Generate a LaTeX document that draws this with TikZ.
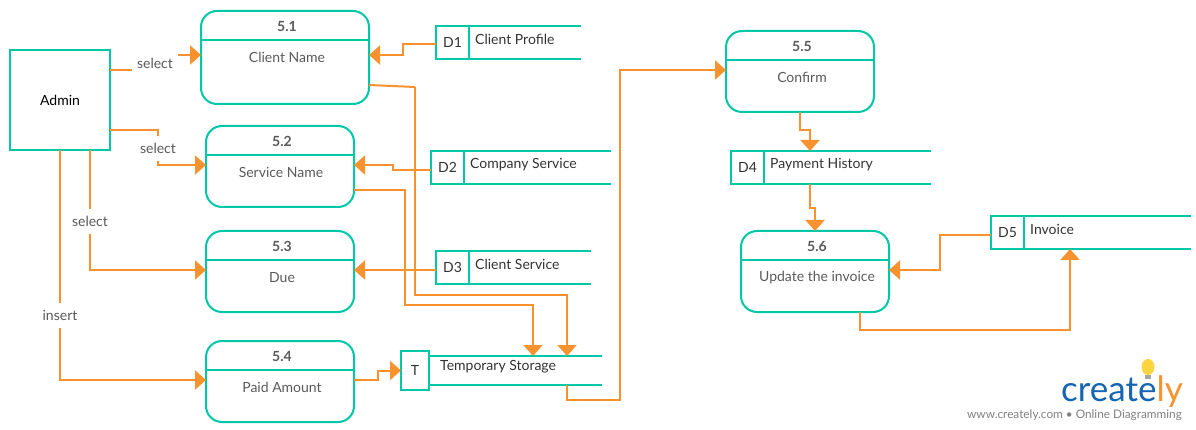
\documentclass[tikz,border=0pt]{standalone}
\usepackage{fontspec}
\setmainfont{Lato}
\usepackage{xcolor}
\usetikzlibrary{arrows.meta}
\definecolor{tealline}{HTML}{00C7A8}
\definecolor{flowcolor}{HTML}{F8922E}
\definecolor{labelgray}{HTML}{5A5A5A}
\definecolor{logoblue}{HTML}{1565B0}
\tikzstyle{entitybox} = [draw=tealline, line width=2pt, rectangle, outer sep=0pt, inner sep=0pt, font=\fontsize{14}{16}\selectfont]
\tikzstyle{procbox} = [entitybox, rounded corners=16pt, minimum width=148pt, minimum height=81pt]
\tikzstyle{storeid} = [entitybox, minimum width=33pt, minimum height=33pt, text=black!80]
\tikzstyle{divider} = [draw=tealline, line width=2pt]
\tikzstyle{numtext} = [text=labelgray, font=\fontsize{14}{16}\selectfont\bfseries, inner sep=0pt]
\tikzstyle{proctext} = [text=labelgray, font=\fontsize{14}{16}\selectfont, inner sep=0pt]
\tikzstyle{storetext} = [text=black!80, anchor=west, font=\fontsize{14}{16}\selectfont, inner sep=0pt]
\tikzstyle{flowlabel} = [fill=white, text=labelgray, font=\fontsize{14}{16}\selectfont, inner ysep=1pt, inner xsep=5pt, minimum height=25pt]
\tikzstyle{flow} = [draw=flowcolor, line width=2pt, -{Triangle[length=11pt,width=19pt]}]
\tikzstyle{flowplain} = [draw=flowcolor, line width=2pt]

\begin{document}
\begin{tikzpicture}[x=1pt,y=-1pt]
\useasboundingbox (0,0) rectangle (1196,430);
% external entity
\node [entitybox, minimum width=100pt, minimum height=100pt, text=black] (admin) at (60,100.5) {Admin};
% processes
\node [procbox, minimum width=168pt, minimum height=93pt] (p51) at (285,57.5) {};
\node [procbox] (p52) at (280,166.5) {};
\node [procbox] (p53) at (280,271.5) {};
\node [procbox] (p54) at (280,381.5) {};
\node [procbox] (p55) at (800,71.5) {};
\node [procbox] (p56) at (815,271.5) {};
\draw [divider] ([yshift=-29pt]p51.north west) -- ([yshift=-29pt]p51.north east);
\draw [divider] ([yshift=-29pt]p52.north west) -- ([yshift=-29pt]p52.north east);
\draw [divider] ([yshift=-29pt]p53.north west) -- ([yshift=-29pt]p53.north east);
\draw [divider] ([yshift=-29pt]p54.north west) -- ([yshift=-29pt]p54.north east);
\draw [divider] ([yshift=-29pt]p55.north west) -- ([yshift=-29pt]p55.north east);
\draw [divider] ([yshift=-29pt]p56.north west) -- ([yshift=-29pt]p56.north east);
\node [numtext] (n51) at (287,26) {5.1};
\node [numtext] (n52) at (282,141) {5.2};
\node [numtext] (n53) at (282,246) {5.3};
\node [numtext] (n54) at (282,356) {5.4};
\node [numtext] (n55) at (802,46) {5.5};
\node [numtext] (n56) at (817,246) {5.6};
\node [proctext] (t51) at (287,57.4) {Client Name};
\node [proctext] (t52) at (281,172.4) {Service Name};
\node [proctext] (t53) at (282,277.4) {Due};
\node [proctext] (t54) at (282,387.4) {Paid Amount};
\node [proctext] (t55) at (802,77.4) {Confirm};
\node [proctext] (t56) at (817,277.4) {Update the invoice};
% data stores
\node [storeid] (d1) at (452.5,42.5) {D1};
\node [storeid] (d2) at (447.5,167.5) {D2};
\node [storeid] (d3) at (452.5,267.5) {D3};
\node [storeid] (d4) at (747.5,167.5) {D4};
\node [storeid] (d5) at (1007.5,232.5) {D5};
\node [storeid, minimum width=28pt, minimum height=39pt] (ts) at (415,370.5) {T};
\draw [divider] (d1.north east) -- ++(112,0) (d1.south east) -- ++(112,0);
\draw [divider] (d2.north east) -- ++(147,0) (d2.south east) -- ++(147,0);
\draw [divider] (d3.north east) -- ++(122,0) (d3.south east) -- ++(122,0);
\draw [divider] (d4.north east) -- ++(167,0) (d4.south east) -- ++(167,0);
\draw [divider] (d5.north east) -- ++(167,0) (d5.south east) -- ++(167,0);
\draw [divider] ([yshift=14.5pt]ts.east) coordinate (tstop) -- ++(173,0);
\draw [divider] ([yshift=-14.5pt]ts.east) coordinate (tsbot) -- ++(173,0);
\node [storetext] (l1) at (475,39.5) {Client Profile};
\node [storetext] (l2) at (470,165) {Company Service};
\node [storetext] (l3) at (475,264.5) {Client Service};
\node [storetext] (l4) at (770,165) {Payment History};
\node [storetext] (l5) at (1030,229.5) {Invoice};
\node [storetext] (l6) at (440,367) {Temporary Storage};
% flows from admin
\draw [flow] ([yshift=30.5pt]admin.east) -- ++(45,0) |- ([yshift=2.5pt]p51.west);
\draw [flow] ([yshift=-29.5pt]admin.east) -- ++(48,0) |- ([yshift=1.5pt]p52.west);
\draw [flow] ([xshift=30pt]admin.south) |- ([yshift=1.5pt]p53.west);
\draw [flow] (admin.south) |- ([yshift=1.5pt]p54.west);
\node [flowlabel] (s1) at (155,63.5) {select};
\node [flowlabel] (s2) at (158,148.5) {select};
\node [flowlabel] (s3) at (90,221.5) {select};
\node [flowlabel] (s4) at (60,315.5) {insert};
% flows between stores and processes
\draw [flow] ([yshift=-1.5pt]d1.west) -- ++(-33,0) |- ([yshift=2.5pt]p51.east);
\draw [flow] ([yshift=-2.5pt]d2.west) -- ++(-38,0) |- ([yshift=1.5pt]p52.east);
\draw [flow] ([yshift=-2.5pt]d3.west) -- ([yshift=1.5pt]p53.east);
\draw [flowplain] ([yshift=-27.5pt]p51.east) -- (415,87) coordinate (bend1);
\draw [flow] (bend1) |- (567,295) -- (tstop -| 567,0);
\draw [flow] ([yshift=-23.5pt]p52.east) -- (405,190) |- (533,305) -- (tstop -| 533,0);
\draw [flow] ([yshift=1.5pt]p54.east) -- ++(24,0) |- (ts.west);
\draw [flow] (tsbot -| 567,0) -- (567,400) -| (620,70) -- ([yshift=1.5pt]p55.west);
\draw [flow] (p55.south) -- ++(0,18) -| (d4.north -| 810,0);
\draw [flow] (d4.south -| 810,0) -- (810,208) -| (p56.north);
\draw [flow] ([yshift=-2.5pt]d5.west) -- (940,235) |- ([yshift=1.5pt]p56.east);
\draw [flow] ([xshift=45pt]p56.south) -- ++(0,18) -| (d5.south -| 1070,0);
% logo
\fill [yellow!60!orange!75] (1148,367) ellipse (6.5pt and 8pt);
\fill [gray!70] (1145,375) rectangle (1151,379);
\node [anchor=base west, inner sep=0pt, font=\fontsize{35}{40}\selectfont] (logo) at (1061,401) {\textcolor{logoblue}{create}\textcolor{flowcolor}{ly}};
\node [anchor=base east, inner sep=0pt, text=gray, font=\fontsize{11.8}{14}\selectfont] (tag) at (1182,418) {www.creately.com • Online Diagramming};
\end{tikzpicture}
\end{document}
